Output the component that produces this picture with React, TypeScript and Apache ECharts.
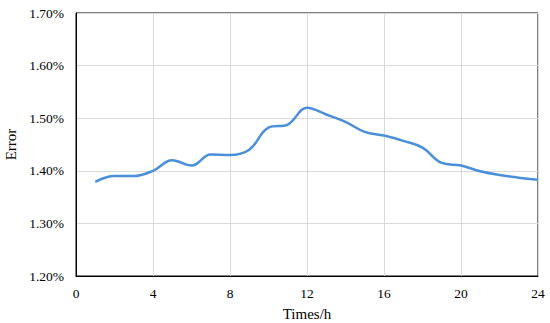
import React, { useEffect, useRef } from "react";
import * as echarts from "echarts";

const hours = [1, 2, 3, 4, 5, 6, 7, 8, 9, 10, 11, 12, 13, 14, 15, 16, 17, 18, 19, 20, 21, 22, 23, 24];
const errorPct = [1.379, 1.39, 1.39, 1.4, 1.42, 1.41, 1.431, 1.43, 1.44, 1.482, 1.488, 1.52, 1.507, 1.493, 1.474, 1.467, 1.457, 1.444, 1.415, 1.41, 1.399, 1.392, 1.387, 1.383];
const xTicks = { min: 0, max: 24, interval: 4 };
const yTicks = { min: 1.2, max: 1.7, interval: 0.1 };

export default function App() {
  const ref = useRef<HTMLDivElement>(null);
  useEffect(() => {
    if (!ref.current) return;
    const chart = echarts.init(ref.current, null, { renderer: "svg" });
    const font = "'Liberation Serif', 'Times New Roman', serif";
    chart.setOption({
      animation: false,
      textStyle: { fontFamily: font },
      grid: {
        left: 76, right: 12, top: 13, bottom: 47,
        containLabel: false,
        outerBoundsMode: "none",
        show: true, borderColor: "#000", borderWidth: 1, backgroundColor: "transparent",
      },
      xAxis: {
        type: "value",
        min: xTicks.min,
        max: xTicks.max,
        interval: xTicks.interval,
        name: "Times/h",
        nameLocation: "middle",
        nameGap: 30,
        nameTextStyle: { fontFamily: font, fontSize: 15, color: "#000" },
        axisLine: { show: true, lineStyle: { color: "#000", width: 1 } },
        axisTick: { show: false },
        axisLabel: { fontFamily: font, fontSize: 13.5, color: "#000", margin: 10 },
        splitLine: { show: true, lineStyle: { color: "#d9d9d9", width: 1 } },
      },
      yAxis: {
        type: "value",
        min: yTicks.min,
        max: yTicks.max,
        interval: yTicks.interval,
        name: "Error",
        nameLocation: "middle",
        nameGap: 58,
        nameTextStyle: { fontFamily: font, fontSize: 15, color: "#000" },
        axisLine: { show: true, lineStyle: { color: "#000", width: 1 } },
        axisTick: { show: false },
        axisLabel: { fontFamily: font, fontSize: 13.5, color: "#000", margin: 12, formatter: (v: number) => v.toFixed(2) + "%" },
        splitLine: { show: true, lineStyle: { color: "#d9d9d9", width: 1 } },
      },
      series: [
        {
          type: "line",
          data: hours.map((h, i) => [h, errorPct[i]]),
          smooth: 0.4,
          showSymbol: false,
          lineStyle: { color: "#4a8fd8", width: 2.5 },
        },
      ],
    });
    return () => chart.dispose();
  }, []);
  return <div ref={ref} style={{ width: 550, height: 323, position: "absolute", left: 0, top: 0, background: "#fff" }} />;
}
